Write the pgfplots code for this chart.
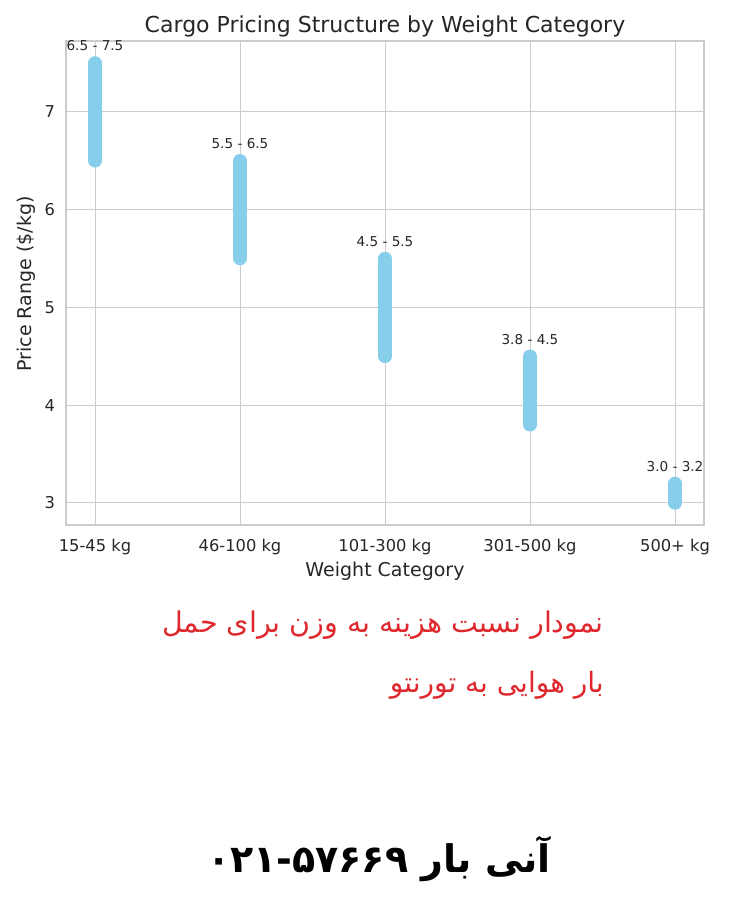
\documentclass[border=0pt]{standalone}
\usepackage{pgfplots}
\pgfplotsset{compat=1.18}
\usepackage{fontspec}
\setmainfont{DejaVu Sans}
\newfontfamily\arabicfont[Script=Arabic]{DejaVu Sans}
\TeXXeTstate=1
\definecolor{skyb}{RGB}{135,206,235}
\definecolor{gridc}{RGB}{204,204,204}
\definecolor{txt}{RGB}{38,38,38}
\definecolor{persred}{RGB}{222,40,45}
\begin{document}
\begin{tikzpicture}[x=1pt,y=1pt]
\useasboundingbox (0,0) rectangle (733,897);
\begin{axis}[at={(66pt,372pt)}, anchor=south west,
  width=638pt, height=484pt, scale only axis,
  xmin=-0.2, xmax=4.2, ymin=2.775, ymax=7.725,
  xtick={0,1,2,3,4},
  xticklabels={15-45 kg,46-100 kg,101-300 kg,301-500 kg,500+ kg},
  ytick={3,4,5,6,7},
  grid=major, major grid style={gridc, line width=1pt},
  axis line style={gridc, line width=1.3pt},
  major tick length=0pt, tick style={draw=none},
  ticklabel style={font=\fontsize{16.3}{18}\selectfont, text=txt},
  xticklabel style={yshift=-10.5pt},
  yticklabel style={xshift=-7.5pt},
  /pgf/number format/assume math mode=true,
  clip=false]
\addplot[skyb, line width=13.5pt, line cap=round] coordinates {(0,6.5) (0,7.5)};
\addplot[skyb, line width=13.5pt, line cap=round] coordinates {(1,5.5) (1,6.5)};
\addplot[skyb, line width=13.5pt, line cap=round] coordinates {(2,4.5) (2,5.5)};
\addplot[skyb, line width=13.5pt, line cap=round] coordinates {(3,3.8) (3,4.5)};
\addplot[skyb, line width=13.5pt, line cap=round] coordinates {(4,3.0) (4,3.2)};
\begin{scope}[every node/.style={anchor=base, yshift=12pt, text=txt, font=\fontsize{13.6}{15}\selectfont, inner sep=0pt}]
\node at (axis cs:0,7.5) {6.5 - 7.5};
\node at (axis cs:1,6.5) {5.5 - 6.5};
\node at (axis cs:2,5.5) {4.5 - 5.5};
\node at (axis cs:3,4.5) {3.8 - 4.5};
\node at (axis cs:4,3.2) {3.0 - 3.2};
\end{scope}
\end{axis}
% title and axis labels
\node[anchor=base, text=txt, font=\fontsize{22}{26}\selectfont, inner sep=0pt] at (385,864) {Cargo Pricing Structure by Weight Category};
\node[anchor=base, text=txt, font=\fontsize{19}{22}\selectfont, inner sep=0pt] at (385,320.5) {Weight Category};
\node[anchor=base, rotate=90, text=txt, font=\fontsize{19}{22}\selectfont, inner sep=0pt] at (31,613) {Price Range (\$/kg)};
% Persian text
\node[anchor=base east, text=persred, font=\arabicfont\fontsize{28.5}{34}\selectfont, inner sep=0pt] at (604,264) {\beginR نمودار نسبت هزینه به وزن برای حمل\endR};
\node[anchor=base east, text=persred, font=\arabicfont\fontsize{28}{34}\selectfont, inner sep=0pt] at (604,204) {\beginR بار هوایی به تورنتو\endR};
\node[anchor=base, text=black, font=\arabicfont\bfseries\fontsize{38}{44}\selectfont, inner sep=0pt] at (379,24) {\beginR آنی بار \beginL ۰۲۱-۵۷۶۶۹\endL\endR};
\end{tikzpicture}
\end{document}
